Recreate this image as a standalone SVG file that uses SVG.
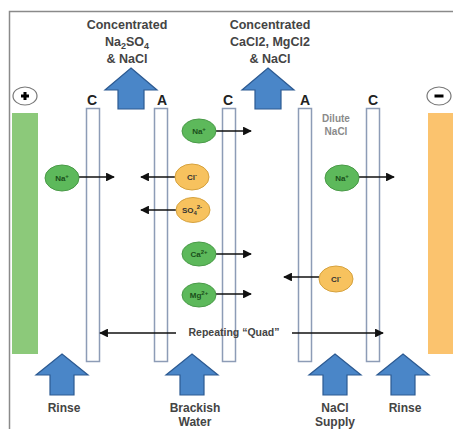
<svg xmlns="http://www.w3.org/2000/svg" width="453" height="429" viewBox="0 0 453 429">
<style>
  .t { font-family: "Liberation Sans", Arial, sans-serif; font-weight: bold; fill: #444; }
  .top { font-size: 12.5px; text-anchor: middle; }
  .lab { font-size: 14px; text-anchor: middle; fill: #222; }
  .bot { font-size: 12px; text-anchor: middle; }
  .ion { font-size: 8px; text-anchor: middle; }
  .mem { fill: #fff; stroke: #8d9cb6; stroke-width: 1.5; }
  .big { fill: #4a86c8; stroke: #2c5a92; stroke-width: 1.2; }
  .pos { fill: #5db95b; stroke: #4a9a48; stroke-width: 1; }
  .neg { fill: #f7c25e; stroke: #d6a23e; stroke-width: 1; }
  .con { stroke: #111; stroke-width: 1.6; fill: none; marker-end: url(#ah); }
</style>
<defs>
  <marker id="ah" viewBox="0 0 10 10" refX="9" refY="5" markerWidth="5.5" markerHeight="5.5" orient="auto" markerUnits="strokeWidth">
    <path d="M0,0 L10,5 L0,10 z" fill="#111"/>
  </marker>
</defs>
<rect width="453" height="429" fill="#fff"/>
<!-- frame -->
<path d="M9.5,429 V11.5 H453" fill="none" stroke="#8a8a8a" stroke-width="1.5"/>

<!-- electrodes -->
<g id="anode">
  <rect x="12" y="113" width="26" height="241" fill="#8cc97a"/>
  <ellipse cx="25" cy="96" rx="12" ry="9" fill="#fff" stroke="#777" stroke-width="1.2"/>
  <path d="M21,96 H29 M25,92 V100" stroke="#000" stroke-width="3"/>
</g>
<g id="cathode">
  <rect x="428" y="113" width="25" height="241" fill="#fbc36e"/>
  <ellipse cx="439" cy="96" rx="12" ry="9" fill="#fff" stroke="#777" stroke-width="1.2"/>
  <path d="M434.5,96 H443.5" stroke="#000" stroke-width="3"/>
</g>

<!-- membranes -->
<g id="mem-c1"><rect class="mem" x="86.5" y="108.5" width="13" height="253"/><text class="t lab" x="92" y="105">C</text></g>
<g id="mem-a1"><rect class="mem" x="154.5" y="108.5" width="13" height="253"/><text class="t lab" x="162" y="105">A</text></g>
<g id="mem-c2"><rect class="mem" x="222.5" y="108.5" width="13" height="253"/><text class="t lab" x="228" y="105">C</text></g>
<g id="mem-a2"><rect class="mem" x="298.5" y="108.5" width="13" height="253"/><text class="t lab" x="305" y="105">A</text></g>
<g id="mem-c3"><rect class="mem" x="366.5" y="108.5" width="13" height="253"/><text class="t lab" x="373" y="105">C</text></g>

<!-- big flow arrows -->
<g id="out1">
  <polygon class="big" points="131,68 157,90 144,90 144,109 118,109 118,90 105,90"/>
  <text class="t top" x="127" y="29">Concentrated</text>
  <text class="t top" x="127" y="46">Na<tspan font-size="9" dy="3">2</tspan><tspan dy="-3">SO</tspan><tspan font-size="9" dy="3">4</tspan></text>
  <text class="t top" x="127" y="63">&amp; NaCl</text>
</g>
<g id="out2">
  <polygon class="big" points="268,68 294,90 281,90 281,109 255,109 255,90 242,90"/>
  <text class="t top" x="270" y="29">Concentrated</text>
  <text class="t top" x="270" y="46">CaCl2, MgCl2</text>
  <text class="t top" x="270" y="63">&amp; NaCl</text>
</g>
<g id="in-rinse1">
  <polygon class="big" points="62,354 88,375 74,375 74,395 50,395 50,375 36,375"/>
  <text class="t bot" x="64" y="412">Rinse</text>
</g>
<g id="in-brackish">
  <polygon class="big" points="192,354 218,375 204,375 204,395 180,395 180,375 166,375"/>
  <text class="t bot" x="195" y="412">Brackish</text>
  <text class="t bot" x="195" y="426">Water</text>
</g>
<g id="in-nacl">
  <polygon class="big" points="335,354 361,375 347,375 347,395 323,395 323,375 309,375"/>
  <text class="t bot" x="335" y="412">NaCl</text>
  <text class="t bot" x="335" y="426">Supply</text>
</g>
<g id="in-rinse2">
  <polygon class="big" points="403,354 429,375 415,375 415,395 391,395 391,375 377,375"/>
  <text class="t bot" x="405" y="412">Rinse</text>
</g>

<text class="t" x="336" y="122" font-size="10" text-anchor="middle" style="fill:#8a8a8a">Dilute</text>
<text class="t" x="336" y="135" font-size="10" text-anchor="middle" style="fill:#8a8a8a">NaCl</text>

<!-- connectors -->
<g id="connectors">
  <line class="con" x1="216" y1="131" x2="251" y2="131"/>
  <line class="con" x1="79" y1="177" x2="114" y2="177"/>
  <line class="con" x1="176" y1="177" x2="141" y2="177"/>
  <line class="con" x1="176" y1="210" x2="141" y2="210"/>
  <line class="con" x1="359" y1="177" x2="394" y2="177"/>
  <line class="con" x1="216" y1="254" x2="251" y2="254"/>
  <line class="con" x1="216" y1="294" x2="251" y2="294"/>
  <line class="con" x1="319" y1="277" x2="284" y2="277"/>
  <line class="con" x1="176" y1="333" x2="100" y2="333"/>
  <line class="con" x1="292" y1="333" x2="383" y2="333"/>
</g>
<text class="t" x="234" y="336" font-size="10.5" text-anchor="middle" style="fill:#444">Repeating “Quad”</text>

<!-- ions -->
<g id="na1"><ellipse class="pos" cx="199" cy="131" rx="17" ry="12"/><text class="t ion" x="199" y="134" style="fill:#1a4f1a">Na<tspan font-size="6" dy="-3">+</tspan></text></g>
<g id="na2"><ellipse class="pos" cx="62" cy="178" rx="17" ry="13"/><text class="t ion" x="62" y="181" style="fill:#1a4f1a">Na<tspan font-size="6" dy="-3">+</tspan></text></g>
<g id="cl1"><ellipse class="neg" cx="192" cy="177" rx="17" ry="13"/><text class="t ion" x="192" y="180" style="fill:#333">Cl<tspan font-size="6" dy="-3">-</tspan></text></g>
<g id="so4"><ellipse class="neg" cx="193" cy="210" rx="17" ry="12.5"/><text class="t ion" x="192" y="213" style="fill:#333">SO<tspan font-size="6" dy="2">4</tspan><tspan font-size="6" dy="-6">2-</tspan></text></g>
<g id="na3"><ellipse class="pos" cx="342" cy="178" rx="17" ry="13"/><text class="t ion" x="342" y="181" style="fill:#1a4f1a">Na<tspan font-size="6" dy="-3">+</tspan></text></g>
<g id="ca"><ellipse class="pos" cx="199" cy="254" rx="17" ry="12"/><text class="t ion" x="199" y="257" style="fill:#1a4f1a">Ca<tspan font-size="6" dy="-3">2+</tspan></text></g>
<g id="mg"><ellipse class="pos" cx="199" cy="295" rx="17" ry="12"/><text class="t ion" x="199" y="298" style="fill:#1a4f1a">Mg<tspan font-size="6" dy="-3">2+</tspan></text></g>
<g id="cl2"><ellipse class="neg" cx="336" cy="279" rx="17" ry="13"/><text class="t ion" x="336" y="282" style="fill:#333">Cl<tspan font-size="6" dy="-3">-</tspan></text></g>
</svg>
